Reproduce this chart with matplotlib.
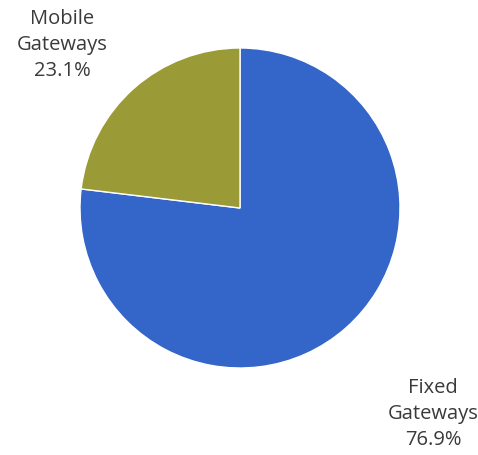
import matplotlib
matplotlib.use("Agg")
import matplotlib.pyplot as plt

categories = ["Fixed\nGateways", "Mobile\nGateways"]
shares = [76.9, 23.1]
colors = ["#3465C9", "#9A9A36"]

W, H = 478, 455
fig = plt.figure(figsize=(W / 100, H / 100), dpi=100)
ax = fig.add_axes([0, 0, 1, 1])

cx, cy, r = 240, 247, 160
ax.pie(shares, colors=colors, startangle=90, counterclock=False,
       center=(cx, cy), radius=r, frame=True,
       wedgeprops=dict(edgecolor="white", linewidth=1.0))
ax.set_xlim(0, W)
ax.set_ylim(0, H)
ax.set_aspect("equal")
ax.axis("off")

label_pos = [(433, 41), (62, 410)]
for name, val, (x, y) in zip(categories, shares, label_pos):
    ax.text(x, y, f"{name}\n{val:.1f}%", ha="center", va="center",
            fontsize=14.5, color="#3a3a3a", family="Open Sans",
            linespacing=1.4)

fig.savefig("out.png", dpi=100)
